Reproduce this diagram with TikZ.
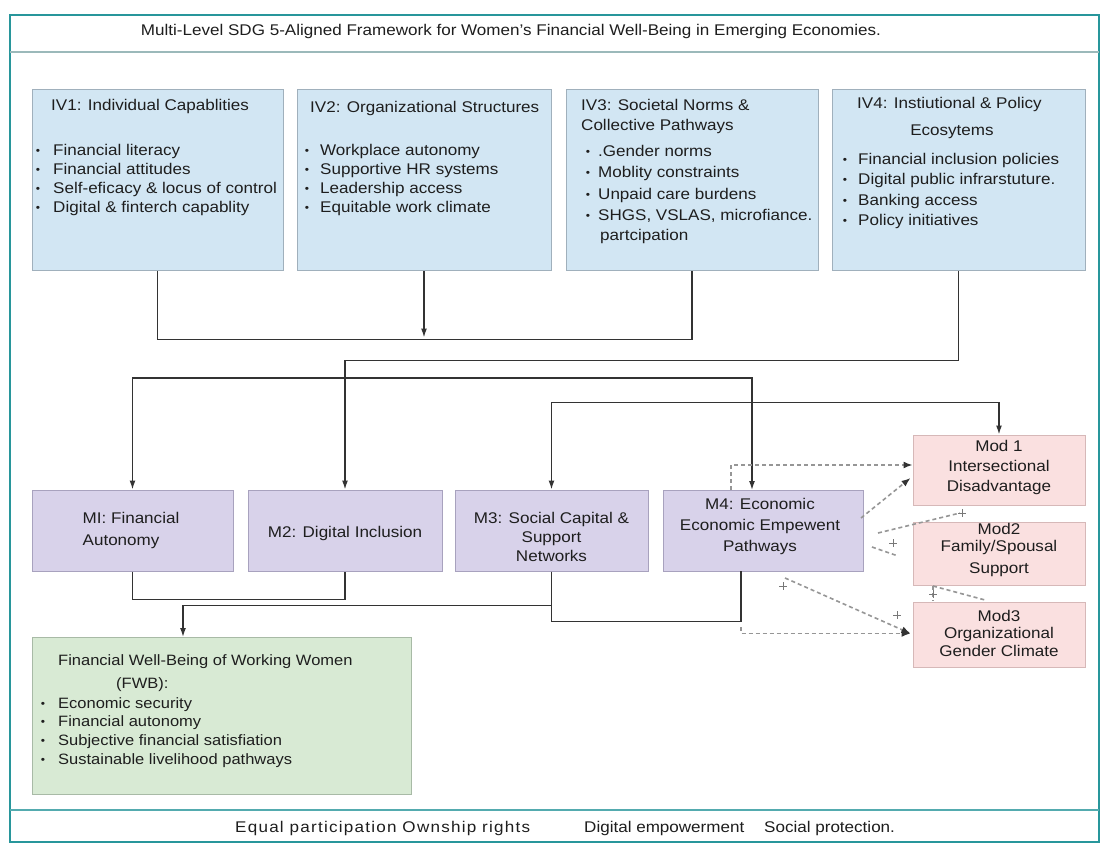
\documentclass[tikz,border=0pt]{standalone}
\usepackage{fontspec}
\setmainfont{Liberation Sans}[FakeStretch=1.1]
\usetikzlibrary{arrows.meta,calc}
\definecolor{ivfill}{RGB}{210,230,243}
\definecolor{ivdraw}{RGB}{160,176,188}
\definecolor{mfill}{RGB}{216,210,234}
\definecolor{mdraw}{RGB}{168,162,190}
\definecolor{modfill}{RGB}{250,224,224}
\definecolor{moddraw}{RGB}{214,184,184}
\definecolor{fwbfill}{RGB}{216,234,212}
\definecolor{fwbdraw}{RGB}{168,186,166}
\definecolor{frame}{RGB}{40,150,155}
\definecolor{txt}{RGB}{30,30,30}
\definecolor{dashc}{RGB}{150,150,150}
\newcommand\fs{\fontsize{15.5}{19}\selectfont}
\newcommand\fsw{\fontsize{15}{19}\selectfont}
\newcommand\dotb[1]{\llap{\raisebox{1pt}{\fontsize{11}{11}\selectfont\textbullet}\hspace{#1}}}
\tikzset{
  ivbox/.style={draw=ivdraw, fill=ivfill, line width=1pt, inner sep=0pt},
  mbox/.style={draw=mdraw, fill=mfill, line width=1pt, inner sep=0pt},
  modbox/.style={draw=moddraw, fill=modfill, line width=1pt, inner sep=0pt},
  fwbbox/.style={draw=fwbdraw, fill=fwbfill, line width=1pt, inner sep=0pt},
  tx/.style={inner sep=0pt, anchor=base west, font=\fs, text=txt},
  ctx/.style={inner sep=0pt, align=center, font=\fs, text=txt},
  conn/.style={draw=black!80, line width=1.4pt},
  tip/.style={-{Latex[length=9pt,width=6pt]}},
  dtip/.style={-{Latex[length=9pt,width=7pt,color=black!80]}},
  dsh/.style={draw=dashc, line width=1.6pt, dash pattern=on 4pt off 3pt},
  pl/.style={draw=dashc!80!black, line width=1pt}
}
\newcommand\plusat[2]{\draw[pl] (#1,#2) +(-4,0) -- +(4,0) +(0,-4) -- +(0,4);}
\begin{document}
\begin{tikzpicture}[x=1pt,y=-1pt]
\useasboundingbox (0,0) rectangle (1101,845);
\fill[white] (0,0) rectangle (1101,845);
% frame
\draw[frame, line width=2.5pt] (10,15) rectangle (1099,842);
\draw[frame!45!gray!60, line width=1.5pt] (10,52) -- (1099,52);
\draw[frame!80, line width=2pt] (10,810) -- (1099,810);
\node[inner sep=0pt, anchor=base, font=\fs, text=txt] (title) at (511,36) {Multi-Level SDG 5-Aligned Framework for Women’s Financial Well-Being in Emerging Economies.};

% IV boxes
\node[ivbox, minimum width=251pt, minimum height=181pt] (iv1) at (157.5,180.5) {};
\node[ivbox, minimum width=254pt, minimum height=181pt] (iv2) at (424,180.5) {};
\node[ivbox, minimum width=252pt, minimum height=181pt] (iv3) at (692,180.5) {};
\node[ivbox, minimum width=253pt, minimum height=181pt] (iv4) at (958.5,180.5) {};

\node[tx] (iv1t) at (51,110.5) {IV1: Individual Capablities};
\foreach \t [count=\i] in {Financial literacy, Financial attitudes, Self-eficacy \& locus of control, Digital \& finterch capablity}
  \node[tx] (iv1b\i) at (53,{156+19*(\i-1)}) {\dotb{13pt}\t};

\node[tx] (iv2t) at (310,113) {IV2: Organizational Structures};
\foreach \t [count=\i] in {Workplace autonomy, Supportive HR systems, Leadership access, Equitable work climate}
  \node[tx] (iv2b\i) at (320,{155.5+19*(\i-1)}) {\dotb{11pt}\t};

\node[tx] (iv3t1) at (581,111) {IV3: Societal Norms \&};
\node[tx] (iv3t2) at (581,130.5) {Collective Pathways};
\foreach \t [count=\i] in {.Gender norms, Moblity constraints, Unpaid care burdens, {SHGS, VSLAS, microfiance.}}
  \node[tx] (iv3b\i) at (598,{156.5+21.3*(\i-1)}) {\dotb{8pt}\t};
\node[tx] (iv3b5) at (600,240.5) {partcipation};

\node[tx] (iv4t1) at (857,108.5) {IV4: Instiutional \& Policy};
\node[inner sep=0pt, anchor=base, font=\fs, text=txt] (iv4t2) at (952,135.5) {Ecosytems};
\foreach \t [count=\i] in {Financial inclusion policies, Digital public infrarstuture., Banking access, Policy initiatives}
  \node[tx] (iv4b\i) at (858,{164.5+20.3*(\i-1)}) {\dotb{11pt}\t};

% M boxes
\node[mbox, minimum width=201pt, minimum height=81pt] (m1) at (132.5,530.5) {};
\node[mbox, minimum width=194pt, minimum height=81pt] (m2) at (345,530.5) {};
\node[mbox, minimum width=193pt, minimum height=81pt] (m3) at (551.5,530.5) {};
\node[mbox, minimum width=200pt, minimum height=81pt] (m4) at (763,530.5) {};
\node[ctx, align=left, font=\fontsize{15.5}{22}\selectfont] (m1t) at (131,530) {MI: Financial\\Autonomy};
\node[ctx] (m2t) at (345,533) {M2: Digital Inclusion};
\node[ctx] (m3t) at (551.5,537) {M3: Social Capital \&\\Support\\Networks};
\node[ctx, font=\fontsize{15.5}{21}\selectfont] (m4t) at (760,526) {M4: Economic\\Economic Empewent\\Pathways};

% Moderators
\node[modbox, minimum width=172pt, minimum height=70pt] (mod1) at (999,470) {};
\node[modbox, minimum width=172pt, minimum height=63pt] (mod2) at (999,553.5) {};
\node[modbox, minimum width=172pt, minimum height=65pt] (mod3) at (999,634.5) {};
\node[ctx, font=\fontsize{15.5}{20}\selectfont] (mod1t) at (999,467) {Mod 1\\Intersectional\\Disadvantage};
\node[ctx, font=\fontsize{15.5}{17}\selectfont] (mod2t) at (999,539) {Mod2\\Family/Spousal};
\node[ctx] (mod2t2) at (999,570) {Support};
\node[ctx, font=\fontsize{15.5}{17.5}\selectfont] (mod3t) at (999,633) {Mod3\\Organizational\\Gender Climate};

% outcome
\node[fwbbox, minimum width=379pt, minimum height=157pt] (fwb) at (221.5,715.5) {};
\node[tx, font=\fsw] (fwbt1) at (58,665) {Financial Well-Being of Working Women};
\node[tx, font=\fsw] (fwbt2) at (116,688) {(FWB):};
\foreach \t [count=\i] in {Economic security, Financial autonomy, Subjective financial satisfiation, Sustainable livelihood pathways}
  \node[tx, font=\fsw] (fwbb\i) at (58,{708+18.7*(\i-1)}) {\dotb{13pt}\t};

% bottom band
\node[tx, font=\fs\addfontfeatures{LetterSpace=8}] (sdg1) at (235,832) {Equal participation Ownship rights};
\node[tx] (sdg2) at (584,832) {Digital empowerment};
\node[tx] (sdg3) at (764,832) {Social protection.};

% solid connectors
\draw[conn] (iv1.south) -- ++(0,68) coordinate (j1) -| (iv3.south);
\draw[conn, tip, shorten >=2pt] (iv2.south) -- (iv2.south |- j1);
\draw[conn, tip] (iv4.south) -- ++(0,89) -| (m2.north);
\coordinate (m4in) at (752,490);
\coordinate (bus2) at (752,378);
\draw[conn, {Latex[length=9pt,width=6pt]}-{Latex[length=9pt,width=6pt]}] (m1.north) |- (bus2) -- (m4in);
\draw[conn, {Latex[length=9pt,width=6pt]}-{Latex[length=9pt,width=6pt]}] (m3.north) |- ($(mod1.north)+(0,-32)$) -- (mod1.north);
\draw[conn] (m1.south) -- ++(0,28) -| (m2.south);
\coordinate (fwbin) at (183,637);
\draw[conn, tip] (m3.south) -- ++(0,34) -| (fwbin);
\coordinate (m4out) at (741,571);
\draw[conn] (m3.south) -- ++(0,50) -| (m4out);

% dashed moderator links
\coordinate (m4a) at (731,490);
\draw[dsh, dtip] (m4a) |- ($(mod1.west)+(0,-5)$);
\coordinate (m4b) at (861,518);
\draw[dsh, dtip] (m4b) -- ($(mod1.west)+(-2,8)$);
\coordinate (m4c) at (878,533);
\coordinate (mod2c) at (960,513);
\draw[dsh] (m4c) -- (mod2c);
\plusat{962}{513}
\coordinate (m4d) at (872,547);
\coordinate (mod2d) at (898,556);
\draw[dsh] (m4d) -- (mod2d);
\plusat{893}{543}
\coordinate (m4e) at (785,578);
\draw[dsh, dtip] (m4e) -- ($(mod3.west)+(-2,-1)$);
\plusat{783}{586}
\plusat{897}{615}
\coordinate (m4f) at (741,627);
\draw[dsh, dtip] (m4f) |- ($(mod3.west)+(-2,-1)$);
\coordinate (mod2g) at (933,586);
\draw[dsh] (mod2g) -- (985,600);
\draw[dsh] (mod2g) -- (933,601);
\plusat{933}{594}
\end{tikzpicture}
\end{document}
